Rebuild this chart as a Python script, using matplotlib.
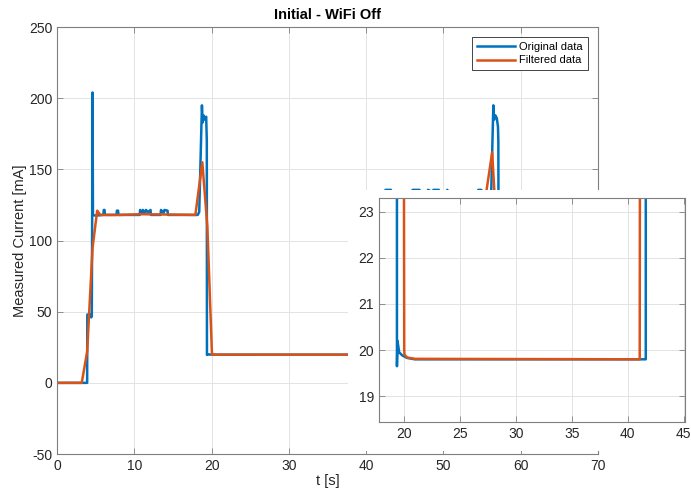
import matplotlib.pyplot as plt

plt.rcParams['font.family'] = ['Liberation Sans', 'DejaVu Sans']
plt.rcParams['axes.unicode_minus'] = False

t_orig = [0, 3.9, 3.92, 4.4, 4.42, 4.5, 4.55, 4.6, 4.65, 5.0, 6.0, 6.05, 6.15, 6.2,
          7.7, 7.75, 7.9, 7.95, 10.7, 10.75, 11.0, 11.1, 11.4, 11.5, 11.8, 12.1, 12.15,
          13.4, 13.45, 13.8, 13.9, 14.3, 14.35, 18.2, 18.4, 18.75, 18.85, 18.95, 19.1,
          19.3, 19.38, 19.4, 19.45, 19.6, 19.9, 20.3, 21.0, 41.6, 41.65, 42.0,
          42.4, 42.5, 43.2, 43.3, 45.9, 46.0, 46.9, 47.0, 47.9, 48.0, 48.6, 48.7,
          49.4, 49.5, 50.45, 50.5, 50.55, 54.4, 54.5, 54.9, 55.0,
          56.15, 56.45, 56.55, 56.7, 56.9, 57.05, 57.1, 57.15, 70]
i_orig = [0, 0, 48, 48, 46, 47, 118, 204, 118, 117.5, 118, 121.5, 121.5, 118,
          118, 121, 121, 118, 118, 121.5, 119, 121.5, 119, 121.5, 120, 121.5, 118,
          118, 121.5, 119.5, 121.5, 121, 118, 118, 120, 195, 183, 188, 185,
          187, 170, 19.65, 20.2, 19.95, 19.88, 19.83, 19.8, 19.8, 128, 128,
          128, 135.6, 135.6, 128, 128, 135.6, 135.6, 128, 128, 135.6, 134, 135.6,
          135.6, 128, 128, 135.6, 128, 128, 135.6, 135.6, 128,
          128, 195, 185, 188, 186, 180, 170, 20, 20]

t_filt = [0, 3.2, 3.9, 4.6, 5.2, 5.6, 8.0, 11.0, 14.0, 17.9, 18.8, 19.45, 20.05,
          20.07, 20.3, 21.0, 41.06, 41.15, 42.8, 55.4, 56.3, 56.65, 57.3, 58.0, 70]
i_filt = [0, 0, 22, 95, 121, 118, 118, 118.5, 118.3, 118, 155, 110, 20,
          19.9, 19.84, 19.81, 19.8, 40, 128, 129, 162, 128, 20, 19.8, 19.8]

blau = '#0072BD'
orange = '#D95319'
tick_col = '#262626'
spine_col = '#7f7f7f'
grid_col = '#e3e3e3'


def style_axes(ax):
    ax.tick_params(direction='in', top=True, right=True, colors=spine_col,
                   labelcolor=tick_col, labelsize=10, length=4, width=0.6)
    for s in ax.spines.values():
        s.set_color(spine_col)
        s.set_linewidth(0.8)
    ax.grid(True, color=grid_col, linewidth=0.7)
    ax.set_axisbelow(True)


fig = plt.figure(figsize=(6.91, 4.92), dpi=100)

# Hauptdiagramm
ax = fig.add_axes([0.0825, 0.0772, 0.783, 0.8678])
ax.plot(t_orig, i_orig, color=blau, linewidth=1.8, label='Original data')
ax.plot(t_filt, i_filt, color=orange, linewidth=1.8, label='Filtered data')
ax.set_xlim(0, 70)
ax.set_ylim(-50, 250)
ax.set_xticks(range(0, 71, 10))
ax.set_yticks(range(-50, 251, 50))
style_axes(ax)
ax.set_title('Initial - WiFi Off', fontsize=10.5, fontweight='bold', color='black', pad=6)
ax.set_xlabel('t [s]', fontsize=10.5, color=tick_col, labelpad=1)
ax.set_ylabel('Measured Current [mA]', fontsize=10.5, color=tick_col, labelpad=1)
leg = ax.legend(loc='upper right', fontsize=8, fancybox=False, edgecolor=tick_col,
                framealpha=1, borderaxespad=0.9, handlelength=3.4, borderpad=0.45,
                labelspacing=0.3, handletextpad=0.4)
leg.get_frame().set_linewidth(0.6)

# weisser Hintergrund des eingefuegten Ausschnitts
bg = fig.add_axes([348 / 691, 1 - 451 / 492, 1 - 348 / 691, (451 - 190) / 492])
bg.set_xticks([])
bg.set_yticks([])
for s in bg.spines.values():
    s.set_visible(False)
bg.set_facecolor('white')

# Ausschnitt
ax2 = fig.add_axes([0.5485, 0.1423, 0.4428, 0.4553])
ax2.plot(t_orig, i_orig, color=blau, linewidth=1.8)
ax2.plot(t_filt, i_filt, color=orange, linewidth=1.8)
ax2.set_xlim(17.8, 45.1)
ax2.set_ylim(18.44, 23.3)
ax2.set_xticks(range(20, 46, 5))
ax2.set_yticks(range(19, 24))
ax2.set_facecolor('white')
style_axes(ax2)

fig.savefig('out.png', dpi=100)
